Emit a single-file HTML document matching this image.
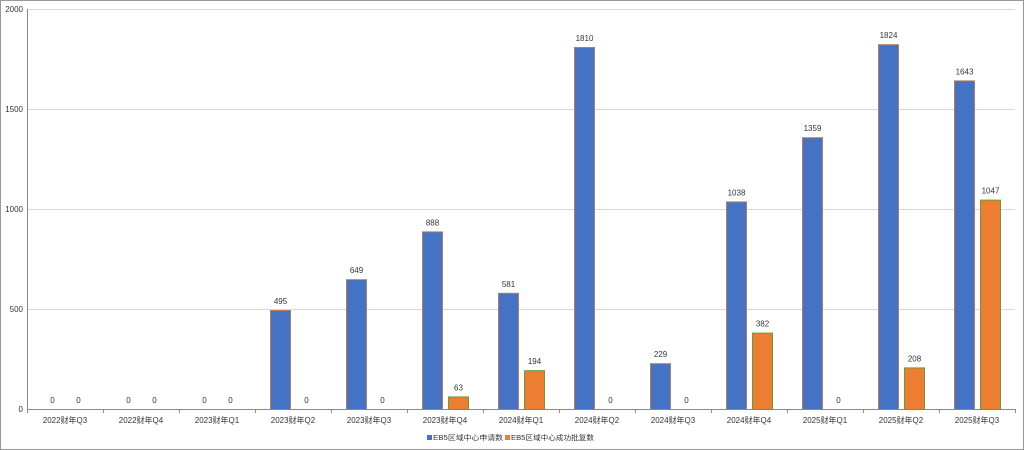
<!DOCTYPE html>
<html><head><meta charset="utf-8"><style>
html,body{margin:0;padding:0;background:#fff}
svg{display:block}
text{font-family:"Liberation Sans","Noto Sans CJK SC",sans-serif;fill:#333}
</style></head><body>
<svg width="1024" height="450" viewBox="0 0 1024 450" xmlns="http://www.w3.org/2000/svg">
<rect x="0.5" y="0.5" width="1023" height="449" fill="#fff" stroke="#999"/>
<g stroke="#d9d9d9" stroke-width="1">
<line x1="27" y1="9.5" x2="1015" y2="9.5"/>
<line x1="27" y1="109.5" x2="1015" y2="109.5"/>
<line x1="27" y1="209.5" x2="1015" y2="209.5"/>
<line x1="27" y1="309.5" x2="1015" y2="309.5"/>
</g>
<g font-size="8" text-anchor="end">
<text x="23" y="12">2000</text><text x="23" y="112">1500</text><text x="23" y="212">1000</text><text x="23" y="312">500</text><text x="23" y="412">0</text>
</g>
<line x1="27.5" y1="9" x2="27.5" y2="410" stroke="#888"/>
<line x1="27" y1="409.5" x2="1015" y2="409.5" stroke="#888"/>
<g id="bars"></g>
<g font-size="8" text-anchor="middle" id="labels"></g>
<g font-size="8" text-anchor="middle" id="xl"></g>
<rect x="427" y="435" width="5" height="5" fill="#4472c4"/>
<text x="433" y="440" font-size="7" textLength="70" lengthAdjust="spacingAndGlyphs">EB5区域中心申请数</text>
<rect x="505" y="435" width="5" height="5" fill="#ed7d31"/>
<text x="511" y="440" font-size="7" textLength="83" lengthAdjust="spacingAndGlyphs">EB5区域中心成功批复数</text>
</svg>
<script>
var cats=["2022财年Q3","2022财年Q4","2023财年Q1","2023财年Q2","2023财年Q3","2023财年Q4","2024财年Q1","2024财年Q2","2024财年Q3","2024财年Q4","2025财年Q1","2025财年Q2","2025财年Q3"];
var a=[0,0,0,495,649,888,581,1810,229,1038,1359,1824,1643];
var b=[0,0,0,0,0,63,194,0,0,382,0,208,1047];
var ns="http://www.w3.org/2000/svg";
function el(t,at,p,txt){var e=document.createElementNS(ns,t);for(var k in at)e.setAttribute(k,at[k]);if(txt!=null)e.textContent=txt;document.getElementById(p).appendChild(e);}
for(var i=0;i<13;i++){var x0=27+i*76;
 el("line",{x1:x0+76.5,y1:409,x2:x0+76.5,y2:413,stroke:"#888"},"bars");
 el("text",{x:x0+38,y:423},"xl",cats[i]);
 var h=a[i]*0.2; if(h>0)el("rect",{x:x0+15.5,y:409.5-h,width:20,height:h,fill:"#4472c4",stroke:"#b57b5a","stroke-width":1},"bars");
 el("text",{x:x0+25.5,y:403-h},"labels",a[i]);
 var g=b[i]*0.2; if(g>0)el("rect",{x:x0+41.5,y:409.5-g,width:20,height:g,fill:"#ed7d31",stroke:"#6b9a3c","stroke-width":1},"bars");
 el("text",{x:x0+51.5,y:403-g},"labels",b[i]);
}
el("line",{x1:27.5,y1:409,x2:27.5,y2:413,stroke:"#888"},"bars");
</script>
</body></html>
